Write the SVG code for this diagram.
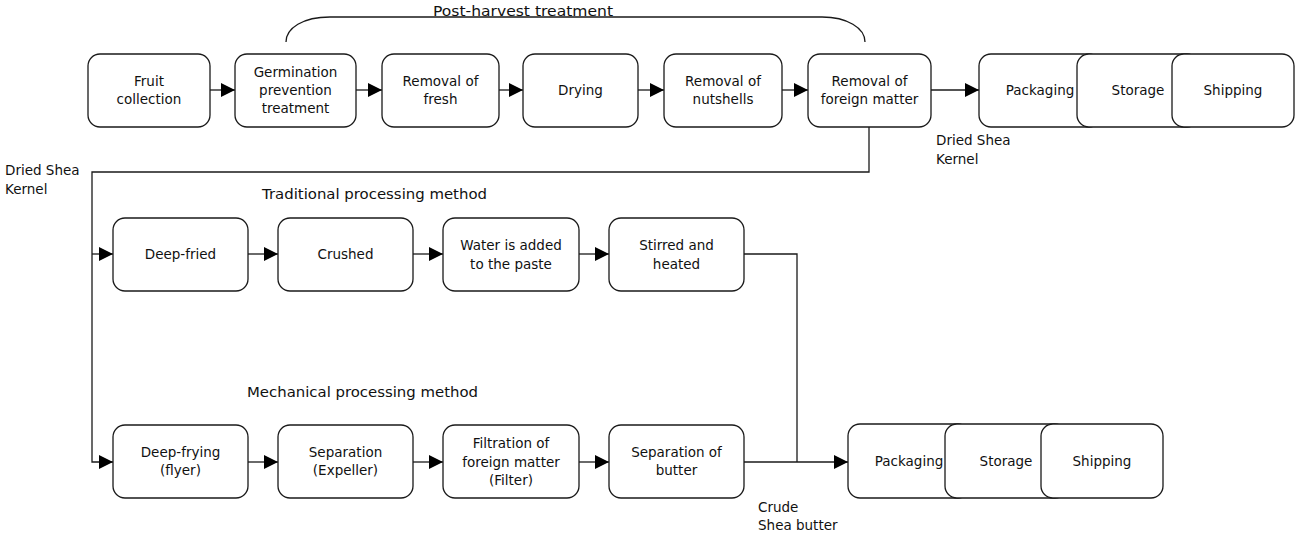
<svg xmlns="http://www.w3.org/2000/svg" width="1295" height="534" viewBox="0 0 1295 534">
<style>
.box{fill:#fff;stroke:#1a1a1a;stroke-width:1.3}
.t{font-family:"DejaVu Sans",sans-serif;font-size:13.5px;fill:#111;text-anchor:middle}
.lbl{font-family:"DejaVu Sans",sans-serif;font-size:14.5px;fill:#111}
.sm{font-family:"DejaVu Sans",sans-serif;font-size:13.5px;fill:#111}
.c{fill:none;stroke:#1a1a1a;stroke-width:1.3}
</style>
<defs>
<marker id="ah" markerUnits="userSpaceOnUse" markerWidth="14" markerHeight="14" refX="14" refY="7" orient="auto">
<path d="M0,0 L14,7 L0,14 z" fill="#000"/>
</marker>
</defs>
<rect width="1295" height="534" fill="#fff"/>

<g id="connectors">
<path class="c" d="M286,42 C286,28 303,17 330,17 L822,17 C847,17 865,28 865,42"/>
<path class="c" d="M210,90 H235" marker-end="url(#ah)"/>
<path class="c" d="M356,90 H382" marker-end="url(#ah)"/>
<path class="c" d="M499,90 H523" marker-end="url(#ah)"/>
<path class="c" d="M638,90 H664" marker-end="url(#ah)"/>
<path class="c" d="M782,90 H808" marker-end="url(#ah)"/>
<path class="c" d="M931,90 H979" marker-end="url(#ah)"/>
<path class="c" d="M869,127 V172 H92 V462 H113" marker-end="url(#ah)"/>
<path class="c" d="M92,254 H113" marker-end="url(#ah)"/>
<path class="c" d="M248,254 H278" marker-end="url(#ah)"/>
<path class="c" d="M413,254 H443" marker-end="url(#ah)"/>
<path class="c" d="M579,254 H609" marker-end="url(#ah)"/>
<path class="c" d="M744,254 H797 V462"/>
<path class="c" d="M248,462 H278" marker-end="url(#ah)"/>
<path class="c" d="M413,462 H443" marker-end="url(#ah)"/>
<path class="c" d="M579,462 H609" marker-end="url(#ah)"/>
<path class="c" d="M744,462 H848" marker-end="url(#ah)"/>
</g>

<g id="labels">
<text class="lbl" x="523" y="16" text-anchor="middle" textLength="180" lengthAdjust="spacingAndGlyphs">Post-harvest treatment</text>
<text class="lbl" x="262" y="199" textLength="225" lengthAdjust="spacingAndGlyphs">Traditional processing method</text>
<text class="lbl" x="247" y="397" textLength="231" lengthAdjust="spacingAndGlyphs">Mechanical processing method</text>
<text class="sm" x="5" y="175">Dried Shea</text>
<text class="sm" x="5" y="194">Kernel</text>
<text class="sm" x="936" y="145">Dried Shea</text>
<text class="sm" x="936" y="164">Kernel</text>
<text class="sm" x="758" y="512">Crude</text>
<text class="sm" x="758" y="530">Shea butter</text>
</g>

<g id="n-fruit"><rect class="box" x="88" y="54" width="122" height="73" rx="12"/>
<text class="t" x="149" y="86">Fruit</text><text class="t" x="149" y="104">collection</text></g>
<g id="n-germ"><rect class="box" x="235" y="54" width="121" height="73" rx="12"/>
<text class="t" x="295.5" y="77">Germination</text><text class="t" x="295.5" y="95">prevention</text><text class="t" x="295.5" y="113">treatment</text></g>
<g id="n-fresh"><rect class="box" x="382" y="54" width="117" height="73" rx="12"/>
<text class="t" x="440.5" y="86">Removal of</text><text class="t" x="440.5" y="104">fresh</text></g>
<g id="n-dry"><rect class="box" x="523" y="54" width="115" height="73" rx="12"/>
<text class="t" x="580.5" y="95">Drying</text></g>
<g id="n-nut"><rect class="box" x="664" y="54" width="118" height="73" rx="12"/>
<text class="t" x="723" y="86">Removal of</text><text class="t" x="723" y="104">nutshells</text></g>
<g id="n-foreign"><rect class="box" x="808" y="54" width="123" height="73" rx="12"/>
<text class="t" x="869.5" y="86">Removal of</text><text class="t" x="869.5" y="104">foreign matter</text></g>
<g id="n-pack1"><rect class="box" x="979" y="54" width="122" height="73" rx="12"/>
<text class="t" x="1040" y="95">Packaging</text></g>
<g id="n-store1"><rect class="box" x="1077" y="54" width="122" height="73" rx="12"/>
<text class="t" x="1138" y="95">Storage</text></g>
<g id="n-ship1"><rect class="box" x="1172" y="54" width="122" height="73" rx="12"/>
<text class="t" x="1233" y="95">Shipping</text></g>

<g id="n-deepfried"><rect class="box" x="113" y="218" width="135" height="73" rx="12"/>
<text class="t" x="180.5" y="259">Deep-fried</text></g>
<g id="n-crushed"><rect class="box" x="278" y="218" width="135" height="73" rx="12"/>
<text class="t" x="345.5" y="259">Crushed</text></g>
<g id="n-water"><rect class="box" x="443" y="218" width="136" height="73" rx="12"/>
<text class="t" x="511" y="250">Water is added</text><text class="t" x="511" y="269">to the paste</text></g>
<g id="n-stirred"><rect class="box" x="609" y="218" width="135" height="73" rx="12"/>
<text class="t" x="676.5" y="250">Stirred and</text><text class="t" x="676.5" y="269">heated</text></g>

<g id="n-deepfrying"><rect class="box" x="113" y="425" width="135" height="73" rx="12"/>
<text class="t" x="180.5" y="457">Deep-frying</text><text class="t" x="180.5" y="475">(flyer)</text></g>
<g id="n-sep"><rect class="box" x="278" y="425" width="135" height="73" rx="12"/>
<text class="t" x="345.5" y="457">Separation</text><text class="t" x="345.5" y="475">(Expeller)</text></g>
<g id="n-filt"><rect class="box" x="443" y="425" width="136" height="73" rx="12"/>
<text class="t" x="511" y="448">Filtration of</text><text class="t" x="511" y="467">foreign matter</text><text class="t" x="511" y="485">(Filter)</text></g>
<g id="n-sepbutter"><rect class="box" x="609" y="425" width="135" height="73" rx="12"/>
<text class="t" x="676.5" y="457">Separation of</text><text class="t" x="676.5" y="475">butter</text></g>
<g id="n-pack2"><rect class="box" x="848" y="424" width="122" height="74" rx="12"/>
<text class="t" x="909" y="466">Packaging</text></g>
<g id="n-store2"><rect class="box" x="945" y="424" width="122" height="74" rx="12"/>
<text class="t" x="1006" y="466">Storage</text></g>
<g id="n-ship2"><rect class="box" x="1041" y="424" width="122" height="74" rx="12"/>
<text class="t" x="1102" y="466">Shipping</text></g>
</svg>
